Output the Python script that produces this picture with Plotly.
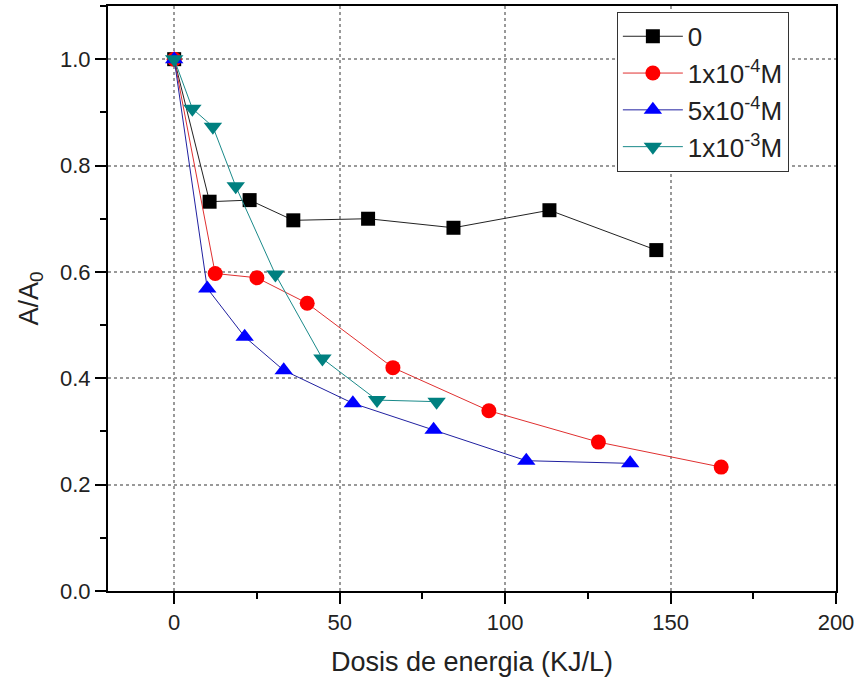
import plotly.graph_objects as go

x_0 = [0, 10.7, 22.8, 36.0, 58.6, 84.4, 113.4, 145.7]
y_0 = [1.0, 0.732, 0.735, 0.697, 0.700, 0.683, 0.716, 0.641]

x_1e4 = [0, 12.4, 25.0, 40.2, 66.1, 95.1, 128.2, 165.3]
y_1e4 = [1.0, 0.597, 0.589, 0.541, 0.420, 0.339, 0.280, 0.233]

x_5e4 = [0, 10.0, 21.3, 33.1, 54.0, 78.4, 106.4, 137.8]
y_5e4 = [1.0, 0.569, 0.478, 0.415, 0.353, 0.303, 0.245, 0.240]

x_1e3 = [0, 5.5, 11.7, 18.6, 30.6, 44.8, 61.3, 79.3]
y_1e3 = [1.0, 0.907, 0.873, 0.761, 0.595, 0.437, 0.359, 0.356]

names = ["0", "1x10<sup>-4</sup>M", "5x10<sup>-4</sup>M", "1x10<sup>-3</sup>M"]

FONT = "Liberation Sans, Arial, sans-serif"

fig = go.Figure()
fig.add_trace(go.Scatter(x=x_0, y=y_0, name=names[0], mode="lines+markers",
                         line=dict(color="#222222", width=1),
                         marker=dict(symbol="square", size=14, color="#000000")))
fig.add_trace(go.Scatter(x=x_1e4, y=y_1e4, name=names[1], mode="lines+markers",
                         line=dict(color="#e03030", width=1),
                         marker=dict(symbol="circle", size=15, color="#ff0000")))
fig.add_trace(go.Scatter(x=x_5e4, y=y_5e4, name=names[2], mode="lines+markers",
                         line=dict(color="#2020a0", width=1),
                         marker=dict(symbol="triangle-up", size=16, color="#0000ff")))
fig.add_trace(go.Scatter(x=x_1e3, y=y_1e3, name=names[3], mode="lines+markers",
                         line=dict(color="#1a8a8a", width=1),
                         marker=dict(symbol="triangle-down", size=16, color="#008080")))

axis_common = dict(
    showline=True, linecolor="black", linewidth=2, mirror=True,
    ticks="outside", ticklen=11, tickwidth=1.5, tickcolor="black",
    showgrid=True, gridcolor="#999999", griddash="dot", gridwidth=1.5,
    zeroline=False,
    tickfont=dict(family=FONT, size=22, color="#222222"),
)

fig.update_xaxes(range=[-20, 200], dtick=50, tick0=0,
                 minor=dict(dtick=25, ticks="outside", ticklen=6, tickcolor="black", showgrid=False),
                 title=dict(text="Dosis de energia (KJ/L)",
                            font=dict(family=FONT, size=27, color="#222222"),
                            standoff=18),
                 **axis_common)
fig.update_yaxes(range=[0, 1.1], dtick=0.2, tick0=0, tickformat=".1f",
                 minor=dict(dtick=0.1, ticks="outside", ticklen=6, tickcolor="black", showgrid=False),
                 title=dict(text="A/A<sub>0</sub>",
                            font=dict(family=FONT, size=27, color="#222222"),
                            standoff=14),
                 **axis_common)

fig.update_layout(
    width=857, height=686,
    margin=dict(l=108, r=21, t=6, b=95, autoexpand=False),
    paper_bgcolor="white", plot_bgcolor="white",
    showlegend=True,
    legend=dict(x=0.699, y=0.99, xanchor="left", yanchor="top",
                bordercolor="#333333", borderwidth=1, bgcolor="white",
                font=dict(family=FONT, size=26, color="#222222"),
                tracegroupgap=0, itemwidth=60),
)

fig.write_html("out.html", config={"displayModeBar": False},
               post_script="document.body.style.margin='0px';")
